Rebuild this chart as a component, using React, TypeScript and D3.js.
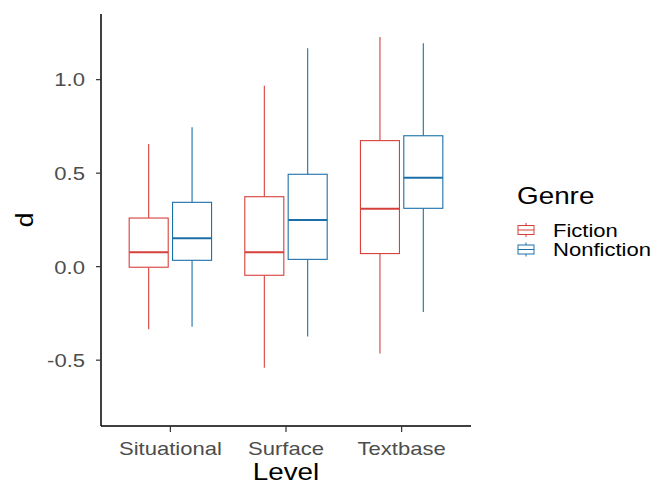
import React from 'react';
import * as d3 from 'd3';

// categories and groups
const levels = ['Situational', 'Surface', 'Textbase'];
const genres = ['Fiction', 'Nonfiction'];
const genreColors = ['#d6403a', '#1c70a8'];

// box stats: [lower whisker, Q1, median, Q3, upper whisker]
const fictionStats = [
  [-0.335, -0.003, 0.077, 0.26, 0.656],
  [-0.54, -0.046, 0.077, 0.374, 0.968],
  [-0.465, 0.07, 0.309, 0.674, 1.228],
];
const nonfictionStats = [
  [-0.321, 0.034, 0.152, 0.344, 0.745],
  [-0.374, 0.039, 0.25, 0.494, 1.168],
  [-0.242, 0.312, 0.476, 0.70, 1.195],
];
const yTicks = [-0.5, 0.0, 0.5, 1.0];

// text in the original is a bit wider than it is tall
const SX = 1.16;

function Txt({ x, y, size, fill, anchor, children, dy }: any) {
  return (
    <text transform={`translate(${x},${y}) scale(${SX},1)`} dy={dy} textAnchor={anchor || 'start'} fontSize={size} fill={fill}>
      {children}
    </text>
  );
}

function App() {
  const W = 657;
  const H = 486;
  const left = 101;
  const right = 471;
  const top = 14;
  const bottom = 426;

  const y = d3.scaleLinear().domain([-0.852, 1.351]).range([bottom, top]);
  // ggplot-like discrete axis: 0.6 expansion on each side
  const xc = d3.scaleLinear().domain([0.4, levels.length + 0.6]).range([left, right]);
  const unit = xc(2) - xc(1);
  const dodge = 0.1875 * unit;
  const boxW = 0.3375 * unit;

  const series = [fictionStats, nonfictionStats];
  const font = 'Liberation Sans, Arial, sans-serif';

  return (
    <svg width={W} height={H} style={{ position: 'absolute', left: 0, top: 0, background: '#fff' }} fontFamily={font}>
      {series.map((stats, gi) =>
        stats.map((s, li) => {
          const cx = xc(li + 1) + (gi === 0 ? -dodge : dodge);
          const col = genreColors[gi];
          return (
            <g key={`${gi}-${li}`} stroke={col} fill="none">
              <line x1={cx} x2={cx} y1={y(s[4])} y2={y(s[3])} strokeWidth={1.1} />
              <line x1={cx} x2={cx} y1={y(s[1])} y2={y(s[0])} strokeWidth={1.1} />
              <rect x={cx - boxW / 2} y={y(s[3])} width={boxW} height={y(s[1]) - y(s[3])} fill="#fff" strokeWidth={1.1} />
              <line x1={cx - boxW / 2} x2={cx + boxW / 2} y1={y(s[2])} y2={y(s[2])} strokeWidth={2} />
            </g>
          );
        })
      )}

      {/* axes */}
      <line x1={left} x2={left} y1={top} y2={bottom} stroke="#000" strokeWidth={1.5} />
      <line x1={left} x2={right} y1={bottom} y2={bottom} stroke="#000" strokeWidth={1.5} />
      {yTicks.map(t => (
        <g key={t}>
          <line x1={left - 5} x2={left} y1={y(t)} y2={y(t)} stroke="#333" strokeWidth={1.2} />
          <Txt x={left - 16} y={y(t)} dy="0.36em" anchor="end" size={19} fill="#4d4d4d">
            {d3.format('.1f')(t).replace('−', '-')}
          </Txt>
        </g>
      ))}
      {levels.map((l, i) => (
        <g key={l}>
          <line x1={xc(i + 1)} x2={xc(i + 1)} y1={bottom} y2={bottom + 6} stroke="#333" strokeWidth={1.2} />
          <Txt x={xc(i + 1)} y={bottom + 29} anchor="middle" size={19} fill="#4d4d4d">{l}</Txt>
        </g>
      ))}
      <Txt x={(left + right) / 2} y={bottom + 54} anchor="middle" size={24} fill="#000">Level</Txt>
      <text transform={`translate(33,${(top + bottom) / 2}) rotate(-90) scale(1.1,1)`} textAnchor="middle" fontSize={24} fill="#000">d</text>

      {/* legend */}
      <Txt x={517} y={204} size={24} fill="#000">Genre</Txt>
      {genres.map((g, i) => {
        const ky = 230 + i * 19.5;
        const col = genreColors[i];
        return (
          <g key={g}>
            <g stroke={col} fill="none" strokeWidth={1}>
              <line x1={526} x2={526} y1={ky - 7} y2={ky + 7} />
              <rect x={518} y={ky - 4.5} width={16} height={9} fill="#fff" />
              <line x1={518} x2={534} y1={ky} y2={ky} />
            </g>
            <Txt x={553} y={ky} dy="0.36em" size={19} fill="#000">{g}</Txt>
          </g>
        );
      })}
    </svg>
  );
}

export default App;
